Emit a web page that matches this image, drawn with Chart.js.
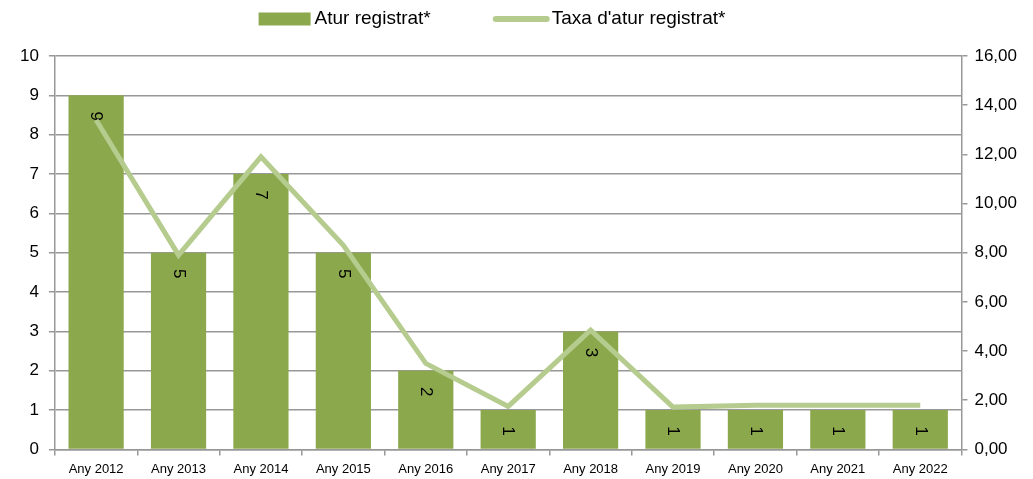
<!DOCTYPE html>
<html>
<head>
<meta charset="utf-8">
<script src="https://cdn.jsdelivr.net/npm/chart.js@4/dist/chart.umd.min.js"></script>
<style>
  html, body { margin: 0; padding: 0; background: #fff; }
  #wrap { width: 1033px; height: 479px; }
</style>
</head>
<body>
<div id="wrap"><canvas id="grafic"></canvas></div>
<script>
// dades llegides del grafic
const anys = ['Any 2012', 'Any 2013', 'Any 2014', 'Any 2015', 'Any 2016', 'Any 2017', 'Any 2018', 'Any 2019', 'Any 2020', 'Any 2021', 'Any 2022'];
const aturRegistrat = [9, 5, 7, 5, 2, 1, 3, 1, 1, 1, 1];
const taxaAtur = [13.4, 7.9, 11.9, 8.3, 3.5, 1.75, 4.85, 1.72, 1.8, 1.8, 1.8];

const verdBarra = '#8ba84d';
const verdLinia = '#b5cc8e';
const gris = '#989898';
const font = 'Liberation Sans';

// etiquetes girades dins de les barres
const etiquetesBarres = {
    id: 'etiquetesBarres',
    afterDatasetDraw(chart, args) {
        if (args.index !== 0) return;
        const c = chart.ctx;
        const meta = chart.getDatasetMeta(0);
        c.save();
        c.fillStyle = '#000';
        c.font = '17px "' + font + '"';
        c.textAlign = 'center';
        c.textBaseline = 'middle';
        meta.data.forEach((bar, i) => {
            c.save();
            c.translate(bar.x, bar.y + 21);
            c.rotate(Math.PI / 2);
            c.fillText(String(aturRegistrat[i]), 0, 0);
            c.restore();
        });
        c.restore();
    }
};

// llegenda dibuixada a ma, com a l'original
const llegenda = {
    id: 'llegenda',
    afterDraw(chart) {
        const c = chart.ctx;
        const ds = chart.data.datasets;
        c.save();
        c.font = '19px "' + font + '"';
        c.textBaseline = 'middle';
        const y = 19;
        const w0 = 52 + 4 + c.measureText(ds[0].label).width;
        const w1 = 57 + 2 + c.measureText(ds[1].label).width;
        let x = 492 - (w0 + 62 + w1) / 2;
        c.fillStyle = ds[0].backgroundColor;
        c.fillRect(x, y - 6.5, 52, 13);
        c.fillStyle = '#000';
        c.fillText(ds[0].label, x + 56, y);
        x += w0 + 62;
        c.strokeStyle = ds[1].borderColor;
        c.lineWidth = 6;
        c.lineCap = 'round';
        c.beginPath();
        c.moveTo(x + 3, y);
        c.lineTo(x + 54, y);
        c.stroke();
        c.fillText(ds[1].label, x + 59, y);
        c.restore();
    }
};

const ctx = document.getElementById('grafic').getContext('2d');
new Chart(ctx, {
    type: 'bar',
    data: {
        labels: anys,
        datasets: [{
            type: 'bar',
            label: 'Atur registrat*',
            data: aturRegistrat,
            backgroundColor: verdBarra,
            borderWidth: 0,
            categoryPercentage: 1,
            barPercentage: 0.67,
            yAxisID: 'y',
            order: 2
        }, {
            type: 'line',
            label: "Taxa d'atur registrat*",
            data: taxaAtur,
            borderColor: verdLinia,
            backgroundColor: verdLinia,
            borderWidth: 5,
            pointRadius: 0,
            tension: 0,
            yAxisID: 'y2',
            order: 1
        }]
    },
    options: {
        responsive: true,
        maintainAspectRatio: false,
        animation: false,
        layout: { padding: { top: 56, right: 9, left: 10, bottom: -4 } },
        plugins: {
            legend: { display: false },
            tooltip: { enabled: false }
        },
        scales: {
            x: {
                grid: { display: true, drawOnChartArea: false, offset: true, color: gris, tickLength: 6, lineWidth: 1.5 },
                border: { color: gris, width: 1.5 },
                ticks: { color: '#000', padding: 6, font: { family: font, size: 13 }, maxRotation: 0 }
            },
            y: {
                position: 'left',
                min: 0,
                max: 10,
                ticks: { stepSize: 1, color: '#000', padding: 10, font: { family: font, size: 17 } },
                grid: { color: gris, lineWidth: 1.5, tickLength: 6 },
                border: { color: gris, width: 1.5 }
            },
            y2: {
                position: 'right',
                min: 0,
                max: 16,
                ticks: {
                    stepSize: 2,
                    color: '#000',
                    padding: 7,
                    font: { family: font, size: 17 },
                    callback: v => v.toFixed(2).replace('.', ',')
                },
                grid: { drawOnChartArea: false, color: gris, lineWidth: 1.5, tickLength: 6 },
                border: { color: gris, width: 1.5 }
            }
        }
    },
    plugins: [etiquetesBarres, llegenda]
});
</script>
</body>
</html>
